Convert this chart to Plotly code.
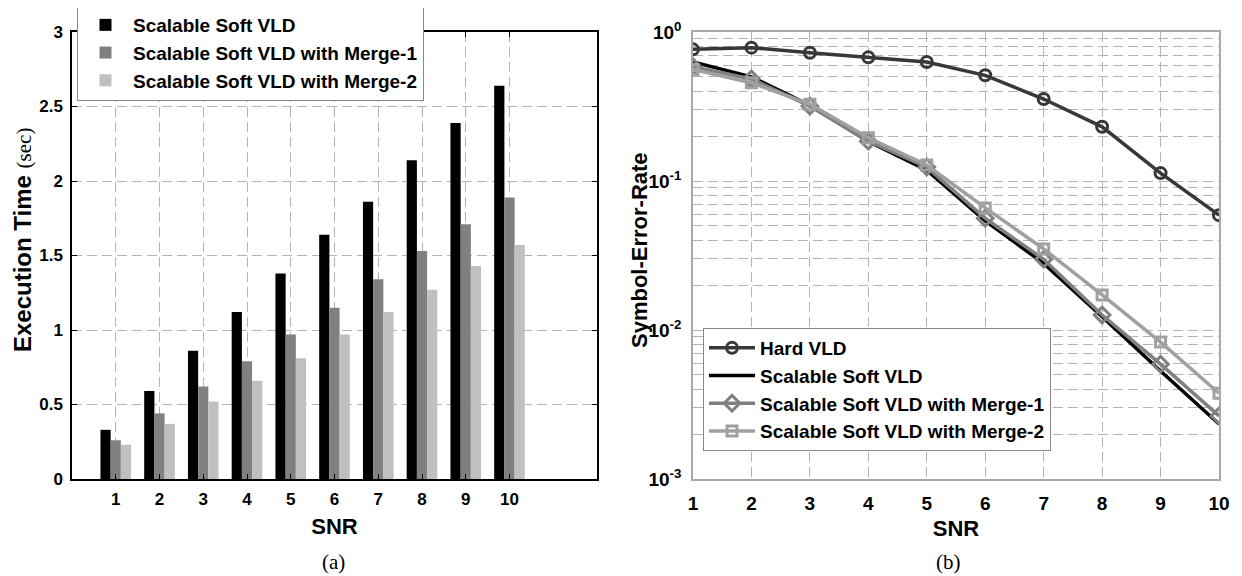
import plotly.graph_objects as go

snr = [1, 2, 3, 4, 5, 6, 7, 8, 9, 10]

# (a) execution time (sec)
time_soft = [0.33, 0.59, 0.86, 1.12, 1.38, 1.64, 1.86, 2.14, 2.39, 2.64]
time_merge1 = [0.26, 0.44, 0.62, 0.79, 0.97, 1.15, 1.34, 1.53, 1.71, 1.89]
time_merge2 = [0.23, 0.37, 0.52, 0.66, 0.81, 0.97, 1.12, 1.27, 1.43, 1.57]
time_ticks = [0, 0.5, 1, 1.5, 2, 2.5, 3]

# (b) symbol error rate
ser_hard = [0.765, 0.785, 0.726, 0.676, 0.629, 0.512, 0.355, 0.231, 0.113, 0.059]
ser_soft = [0.63, 0.50, 0.322, 0.184, 0.118, 0.054, 0.028, 0.0123, 0.0053, 0.00234]
ser_merge1 = [0.585, 0.484, 0.318, 0.185, 0.124, 0.0562, 0.0298, 0.0126, 0.0059, 0.00265]
ser_merge2 = [0.560, 0.457, 0.328, 0.195, 0.128, 0.0660, 0.0350, 0.0172, 0.0083, 0.00376]
ser_ticks = [0.001, 0.01, 0.1, 1]
ser_tick_labels = ["10<sup>-3</sup>", "10<sup>-2</sup>", "10<sup>-1</sup>", "10<sup>0</sup>"]

names = ["Scalable Soft VLD", "Scalable Soft VLD with Merge-1", "Scalable Soft VLD with Merge-2"]
bar_colors = ["#000000", "#808080", "#c0c0c0"]

SANS = "Liberation Sans, Arial"
SERIF = "Liberation Serif, Times New Roman"

def b(t):
    return "<b>" + str(t) + "</b>"

fig = go.Figure()

for vals, nm, col in zip([time_soft, time_merge1, time_merge2], names, bar_colors):
    fig.add_trace(go.Bar(x=snr, y=vals, name=b(nm), marker=dict(color=col, line=dict(width=0)),
                         xaxis="x", yaxis="y", legend="legend"))

fig.add_trace(go.Scatter(x=snr, y=ser_hard, name=b("Hard VLD"), mode="lines+markers",
                         line=dict(color="#383838", width=3.5),
                         marker=dict(symbol="circle-open", size=11, color="#383838", line=dict(width=3)),
                         xaxis="x2", yaxis="y2", legend="legend2"))
fig.add_trace(go.Scatter(x=snr, y=ser_soft, name=b("Scalable Soft VLD"), mode="lines",
                         line=dict(color="#000000", width=3.5),
                         xaxis="x2", yaxis="y2", legend="legend2"))
fig.add_trace(go.Scatter(x=snr, y=ser_merge1, name=b("Scalable Soft VLD with Merge-1"), mode="lines+markers",
                         line=dict(color="#808080", width=3.5),
                         marker=dict(symbol="diamond-open", size=12, color="#808080", line=dict(width=3)),
                         xaxis="x2", yaxis="y2", legend="legend2"))
fig.add_trace(go.Scatter(x=snr, y=ser_merge2, name=b("Scalable Soft VLD with Merge-2"), mode="lines+markers",
                         line=dict(color="#a0a0a0", width=3.5),
                         marker=dict(symbol="square-open", size=10, color="#a0a0a0", line=dict(width=3)),
                         xaxis="x2", yaxis="y2", legend="legend2"))

# page body has an 8px margin; figure is sized so it fits the 1242x576 window
OFF = 8
W, H = 1242 - OFF, 576 - OFF
def px_x(p):
    return (p - OFF) / W
def px_y(p):
    return 1 - (p - OFF) / H

GRID = "#b4b4b4"
grid = dict(showgrid=True, gridcolor=GRID, griddash="10px,5px", gridwidth=1)

minor_vals = [k * 10 ** d for d in (-3, -2, -1) for k in range(2, 10)]

left_common = dict(showline=True, linecolor="#000000", linewidth=1.5, mirror="ticks",
                   ticks="inside", ticklen=5, tickcolor="#000000",
                   tickfont=dict(family=SANS, size=17, color="#000000"),
                   zeroline=False, ticklabelstandoff=4, automargin=False, **grid)
right_common = dict(showline=True, linecolor="#a8a8a8", linewidth=1.5, mirror=True,
                    ticks="", tickfont=dict(family=SANS, size=19, color="#000000"),
                    zeroline=False, ticklabelstandoff=6, automargin=False, **grid)

fig.update_layout(
    width=W, height=H,
    margin=dict(l=0, r=0, t=0, b=0, autoexpand=False),
    paper_bgcolor="white", plot_bgcolor="white",
    barmode="group", bargap=0.30, bargroupgap=0,
    xaxis=dict(domain=[px_x(72), px_x(597)], range=[0, 12], anchor="y",
               tickvals=snr, ticktext=[b(v) for v in snr], **left_common,
               title=dict(text="<b>SNR</b>", font=dict(family=SANS, size=22, color="#000"), standoff=10)),
    yaxis=dict(domain=[px_y(479), px_y(32)], range=[0, 3], anchor="x",
               tickvals=time_ticks, ticktext=[b(v) for v in time_ticks], **left_common),
    xaxis2=dict(domain=[px_x(693), px_x(1219)], range=[1, 10], anchor="y2",
                tickvals=snr, ticktext=[b(v) for v in snr], **right_common,
                title=dict(text="<b>SNR</b>", font=dict(family=SANS, size=22, color="#000"), standoff=8)),
    yaxis2=dict(domain=[px_y(479), px_y(32)], type="log", range=[-3, 0], anchor="x2",
                tickvals=ser_ticks, ticktext=[b(t) for t in ser_tick_labels], **right_common,
                minor=dict(tickvals=minor_vals, showgrid=True, gridcolor=GRID, griddash="10px,5px")),
    legend=dict(x=px_x(77), y=px_y(5), xanchor="left", yanchor="top",
                bgcolor="white", bordercolor="#888888", borderwidth=1,
                font=dict(family=SANS, size=19, color="#000"), tracegroupgap=0,
                itemwidth=45),
    legend2=dict(x=px_x(703), y=px_y(328), xanchor="left", yanchor="top",
                 bgcolor="white", bordercolor="#888888", borderwidth=1,
                 font=dict(family=SANS, size=19, color="#000"), tracegroupgap=0,
                 itemwidth=46),
    showlegend=True,
    annotations=[
        dict(text="<b>Execution Time</b> <span style='font-family:Liberation Serif;font-size:21px'>(sec)</span>",
             x=px_x(22), y=px_y(240), xref="paper", yref="paper", textangle=-90,
             xanchor="center", yanchor="middle", showarrow=False,
             font=dict(family=SANS, size=24, color="#000")),
        dict(text="<b>Symbol-Error-Rate</b>",
             x=px_x(639), y=px_y(250), xref="paper", yref="paper", textangle=-90,
             xanchor="center", yanchor="middle", showarrow=False,
             font=dict(family=SANS, size=22, color="#000")),
        dict(text="(a)", x=px_x(333), y=px_y(562), xref="paper", yref="paper",
             xanchor="center", yanchor="middle",
             showarrow=False, font=dict(family=SERIF, size=21, color="#000")),
        dict(text="(b)", x=px_x(948), y=px_y(562), xref="paper", yref="paper",
             xanchor="center", yanchor="middle",
             showarrow=False, font=dict(family=SERIF, size=21, color="#000")),
    ],
)

fig.write_html("out.html")
